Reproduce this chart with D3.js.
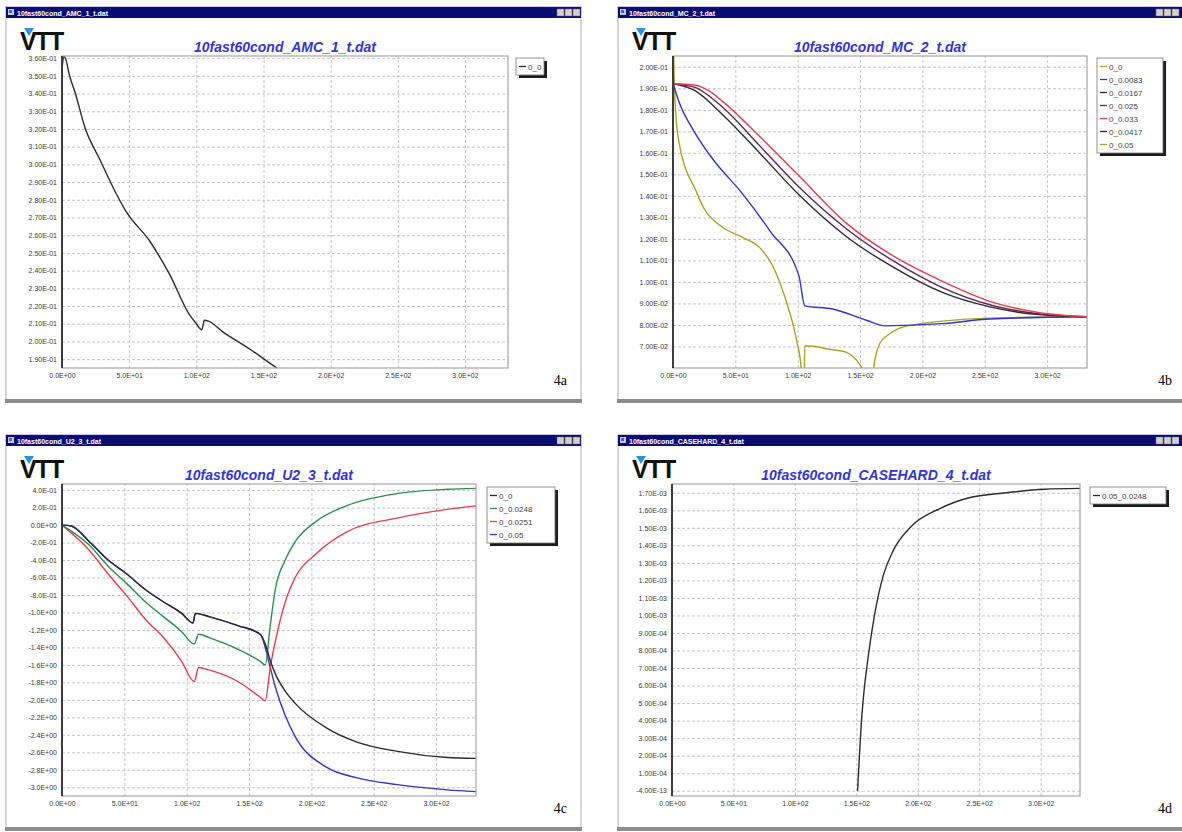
<!DOCTYPE html>
<html>
<head>
<meta charset="utf-8">
<script src="https://cdn.jsdelivr.net/npm/d3@7"></script>
<style>
body { margin: 0; background: #fff; }
svg { display: block; }
.tk text { font: 7px "Liberation Sans", Arial, sans-serif; fill: #3a3a3a; }
</style>
</head>
<body>
<script>
// time axis shared by the four plots
const xTicks = [0, 50, 100, 150, 200, 250, 300];
const xMax = 332;

// 4a  AMC
const amcT = [0, 1.5, 3, 5, 10, 17, 28, 40, 48, 65, 80, 95, 100, 104, 106, 109, 120, 140, 160, 166];
const amcV = [0.354, 0.361, 0.359, 0.352, 0.340, 0.321, 0.303, 0.284, 0.273, 0.257, 0.238, 0.215, 0.210, 0.2065, 0.212, 0.2115, 0.2053, 0.1956, 0.185, 0.182];
const amcTicks = [0.19, 0.20, 0.21, 0.22, 0.23, 0.24, 0.25, 0.26, 0.27, 0.28, 0.29, 0.30, 0.31, 0.32, 0.33, 0.34, 0.35, 0.36];

// 4b  MC
const mcRedT = [0, 17, 28, 40, 70, 101, 139.5, 178, 216, 254, 293, 332];
const mcRedV = [0.1921, 0.1915, 0.1891, 0.1838, 0.1673, 0.1493, 0.1271, 0.1116, 0.1003, 0.0910, 0.0858, 0.0838];
const mcBlackT = [0, 17, 40, 70, 101, 139.5, 178, 216, 254, 293, 332];
const mcBlackV = [0.1921, 0.1891, 0.1776, 0.1596, 0.1405, 0.1209, 0.1064, 0.0951, 0.0884, 0.0848, 0.0838];
const mcPurpleV = [0.1921, 0.1905, 0.1811, 0.1630, 0.1441, 0.1245, 0.1093, 0.0974, 0.0894, 0.0852, 0.0838];
const mcBlueT = [0, 5.4, 17, 32, 55, 78, 101, 105.7, 128, 155, 170, 216, 254, 332];
const mcBlueV = [0.1921, 0.1828, 0.1699, 0.1570, 0.1415, 0.1235, 0.1028, 0.0889, 0.0874, 0.0822, 0.0796, 0.0806, 0.0828, 0.0838];
const mcOliveT = [0, 0.6, 1.2, 2.5, 5, 10, 17, 25, 40, 55, 70, 80, 90, 98, 102, 104.5, 105.3, 105.6, 110, 125, 139, 150, 157, 159, 162, 166, 172, 180, 195, 216, 254, 332];
const mcOliveV = [0.2485, 0.205, 0.1905, 0.176, 0.1644, 0.1528, 0.1441, 0.134, 0.1253, 0.1209, 0.1157, 0.1074, 0.0925, 0.076, 0.0644, 0.0528, 0.0528, 0.0702, 0.0702, 0.0687, 0.0673, 0.0615, 0.0542, 0.0528, 0.0644, 0.0716, 0.0752, 0.0781, 0.0803, 0.0818, 0.0832, 0.0838];
const mcTicks = [0.07, 0.08, 0.09, 0.10, 0.11, 0.12, 0.13, 0.14, 0.15, 0.16, 0.17, 0.18, 0.19, 0.20];
const mcNames = ["0_0", "0_0.0083", "0_0.0167", "0_0.025", "0_0.033", "0_0.0417", "0_0.05"];
const mcColors = ["#a4a42c", "#3434c4", "#2c2c2c", "#5a2850", "#e0404e", "#2c2c2c", "#a4a42c"];

// 4c  U2
const u2BlackT = [0, 7.4, 22, 37, 52, 67, 81.5, 96, 105, 107, 118.5, 141, 159, 163, 167, 171, 179, 187, 212, 236, 269, 309, 332];
const u2BlackV = [0, -0.01, -0.19, -0.40, -0.56, -0.74, -0.88, -1.01, -1.12, -1.01, -1.05, -1.15, -1.25, -1.36, -1.55, -1.70, -1.90, -2.04, -2.32, -2.48, -2.59, -2.66, -2.67];
const u2BlueV = [0, -0.01, -0.19, -0.40, -0.56, -0.74, -0.88, -1.01, -1.12, -1.01, -1.05, -1.15, -1.25, -1.40, -1.63, -1.85, -2.18, -2.42, -2.77, -2.89, -2.97, -3.03, -3.05];
const u2GreenT = [0, 22, 37, 52, 67, 81.5, 96, 106, 109.6, 118.5, 141, 159, 163, 167, 171, 179, 187, 203.6, 228, 268.6, 309, 332];
const u2GreenV = [0, -0.23, -0.47, -0.67, -0.88, -1.05, -1.22, -1.36, -1.25, -1.29, -1.42, -1.56, -1.60, -1.15, -0.74, -0.40, -0.19, 0.04, 0.22, 0.36, 0.41, 0.42];
const u2RedT = [0, 22, 37, 52, 67, 81.5, 96, 106, 109.6, 118.5, 141, 159, 163, 167, 172.8, 179, 187, 203.6, 228, 268.6, 309, 332];
const u2RedV = [0, -0.29, -0.56, -0.81, -1.08, -1.29, -1.56, -1.79, -1.63, -1.66, -1.79, -1.97, -2.01, -1.63, -1.22, -0.88, -0.60, -0.33, -0.08, 0.08, 0.18, 0.22];
const u2Ticks = [0.4, 0.2, 0, -0.2, -0.4, -0.6, -0.8, -1.0, -1.2, -1.4, -1.6, -1.8, -2.0, -2.2, -2.4, -2.6, -2.8, -3.0];
const u2Names = ["0_0", "0_0.0248", "0_0.0251", "0_0.05"];
const u2Colors = ["#2c2c2c", "#2e8c50", "#e0404e", "#3434c4"];

// 4d  CASEHARD
const caseT = [151, 152.5, 154, 156, 159, 165, 172, 180, 195, 218, 241, 272, 303, 333];
const caseV = [0, 0.00020, 0.00038, 0.00055, 0.00073, 0.00101, 0.00123, 0.00137, 0.00151, 0.00161, 0.00167, 0.00170, 0.00172, 0.001725];
const caseTicks = [0, 0.0001, 0.0002, 0.0003, 0.0004, 0.0005, 0.0006, 0.0007, 0.0008, 0.0009, 0.0010, 0.0011, 0.0012, 0.0013, 0.0014, 0.0015, 0.0016, 0.0017];
const caseTickText = ["-4.00E-13", "1.00E-04", "2.00E-04", "3.00E-04", "4.00E-04", "5.00E-04", "6.00E-04", "7.00E-04", "8.00E-04", "9.00E-04", "1.00E-03", "1.10E-03", "1.20E-03", "1.30E-03", "1.40E-03", "1.50E-03", "1.60E-03", "1.70E-03"];

const FONT = "'Liberation Sans', Arial, sans-serif";

// scientific label like 3.60E-01
function sci(d, n) {
  if (Math.abs(d) < 1e-12) return (0).toFixed(n) + "E+00";
  let e = Math.floor(Math.log10(Math.abs(d)) + 1e-9);
  let m = d / Math.pow(10, e);
  return m.toFixed(n) + "E" + (e < 0 ? "-" : "+") + String(Math.abs(e)).padStart(2, "0");
}

const svg = d3.select("body").append("svg").attr("width", 1182).attr("height", 832);
const defs = svg.append("defs");

function drawPanel(p) {
  const g = svg.append("g");
  const { wx, wy, ww, wh } = p;

  // window
  g.append("rect").attr("x", wx + 0.5).attr("y", wy + 0.5).attr("width", ww - 1).attr("height", wh - 1)
    .attr("fill", "#fff").attr("stroke", "#cdc9e2");
  g.append("rect").attr("x", wx).attr("y", wy + 12).attr("width", 2).attr("height", wh - 12).attr("fill", "#d6d6d6");
  g.append("rect").attr("x", wx + ww - 2).attr("y", wy + 12).attr("width", 2).attr("height", wh - 12).attr("fill", "#d6d6d6");
  g.append("rect").attr("x", wx).attr("y", wy + wh - 4).attr("width", ww).attr("height", 4).attr("fill", "#8c8c8c");

  // title bar
  g.append("rect").attr("x", wx + 1).attr("y", wy + 1).attr("width", ww - 2).attr("height", 11).attr("fill", "#0b0b74");
  g.append("rect").attr("x", wx + 3).attr("y", wy + 3).attr("width", 6).attr("height", 6).attr("fill", "#c8c8c8");
  g.append("rect").attr("x", wx + 4).attr("y", wy + 4).attr("width", 3).attr("height", 3).attr("fill", "#3a6ad0");
  g.append("text").attr("x", wx + 12).attr("y", wy + 9.5).attr("font-family", FONT).attr("font-size", 7)
    .attr("font-weight", "bold").attr("fill", "#fff").text(p.file);
  [0, 1, 2].forEach(i => {
    g.append("rect").attr("x", p.btnX + i * 8).attr("y", wy + 3).attr("width", 7).attr("height", 7)
      .attr("fill", "#d4d0c8").attr("stroke", "#6a6a6a").attr("stroke-width", 0.5);
  });

  // VTT logo
  g.append("text").attr("x", wx + 15).attr("y", wy + 44).attr("font-family", FONT).attr("font-weight", "bold")
    .attr("font-size", 25).attr("letter-spacing", -1.5).attr("fill", "#111").text("VTT");
  g.append("path").attr("d", `M${wx + 19},${wy + 22} L${wx + 29},${wy + 22} L${wx + 24},${wy + 30} Z`).attr("fill", "#2f8fd8");

  // plot title
  g.append("text").attr("x", (p.px0 + p.px1) / 2).attr("y", wy + 46).attr("text-anchor", "middle")
    .attr("font-family", FONT).attr("font-weight", "bold").attr("font-style", "italic").attr("font-size", 14)
    .attr("fill", "#3535d0").text(p.file);

  const x = d3.scaleLinear().domain([0, xMax]).range([p.px0, p.px1]);
  const y = d3.scaleLinear().domain(p.yDomain).range([p.py1, p.py0]);
  const pw = p.px1 - p.px0, ph = p.py1 - p.py0;

  // dashed grid
  const gy = g.append("g").attr("transform", `translate(${p.px0},0)`)
    .call(d3.axisLeft(y).tickValues(p.yTicks).tickSize(-pw).tickFormat(""));
  const gx = g.append("g").attr("transform", `translate(0,${p.py1})`)
    .call(d3.axisBottom(x).tickValues(xTicks.slice(1)).tickSize(-ph).tickFormat(""));
  [gy, gx].forEach(s => {
    s.select(".domain").remove();
    s.selectAll("line").attr("stroke", "#c4c4c4").attr("stroke-dasharray", "3,2");
  });

  // tick labels
  g.append("g").attr("class", "tk").attr("transform", `translate(${p.px0 - 2},0)`)
    .call(d3.axisLeft(y).tickValues(p.yTicks).tickSize(0).tickPadding(3).tickFormat(p.yFmt))
    .call(s => s.select(".domain").remove());
  g.append("g").attr("class", "tk").attr("transform", `translate(0,${p.py1 + 2})`)
    .call(d3.axisBottom(x).tickValues(xTicks).tickSize(0).tickPadding(3).tickFormat(d => sci(d, 1)))
    .call(s => s.select(".domain").remove());

  // curves
  defs.append("clipPath").attr("id", "clip" + p.tag).append("rect")
    .attr("x", p.px0).attr("y", p.py0).attr("width", pw).attr("height", ph);
  const line = d3.line().curve(d3.curveMonotoneX).x(d => x(d[0])).y(d => y(d[1]));
  const lg = g.append("g").attr("clip-path", `url(#clip${p.tag})`);
  p.series.forEach(s => {
    lg.append("path").datum(d3.zip(s.t, s.v)).attr("d", line)
      .attr("fill", "none").attr("stroke", s.color).attr("stroke-width", 1.4).attr("stroke-linejoin", "round");
  });

  // frame
  g.append("rect").attr("x", p.px0).attr("y", p.py0).attr("width", pw).attr("height", ph)
    .attr("fill", "none").attr("stroke", "#a6a6a6").attr("stroke-width", 1.2);
  g.append("line").attr("x1", p.px0).attr("x2", p.px0).attr("y1", p.py0).attr("y2", p.py1)
    .attr("stroke", "#3c3c3c").attr("stroke-width", 2);

  // legend
  const L = p.legend;
  const lh = L.names.length * 13 + 4;
  g.append("rect").attr("x", L.x + 3).attr("y", L.y + 3).attr("width", L.w).attr("height", lh).attr("fill", "#1c1c1c");
  g.append("rect").attr("x", L.x).attr("y", L.y).attr("width", L.w).attr("height", lh)
    .attr("fill", "#fff").attr("stroke", "#777").attr("stroke-width", 0.8);
  L.names.forEach((nm, i) => {
    const cy = L.y + 8.5 + i * 13;
    g.append("line").attr("x1", L.x + 3).attr("x2", L.x + 10).attr("y1", cy).attr("y2", cy)
      .attr("stroke", L.colors[i]).attr("stroke-width", 1.3);
    g.append("text").attr("x", L.x + 12).attr("y", cy + 3).attr("font-family", FONT).attr("font-size", 8)
      .attr("fill", "#444").text(nm);
  });

  // figure tag
  g.append("text").attr("x", p.tagX).attr("y", wy + 379).attr("text-anchor", "end")
    .attr("font-family", "'Liberation Serif', 'Times New Roman', serif").attr("font-size", 14).attr("fill", "#000").text(p.tag);
}

drawPanel({
  tag: "4a", file: "10fast60cond_AMC_1_t.dat",
  wx: 5, wy: 6, ww: 577, wh: 397, btnX: 557, tagX: 567,
  px0: 62, px1: 508, py0: 56, py1: 368,
  yDomain: [0.185, 0.3612], yTicks: amcTicks, yFmt: d => sci(d, 2),
  series: [{ t: amcT, v: amcV, color: "#2c2c2c" }],
  legend: { x: 516, y: 58, w: 28, names: ["0_0"], colors: ["#2c2c2c"] }
});

drawPanel({
  tag: "4b", file: "10fast60cond_MC_2_t.dat",
  wx: 617, wy: 6, ww: 568, wh: 397, btnX: 1156, tagX: 1172,
  px0: 673, px1: 1087, py0: 56, py1: 368,
  yDomain: [0.06, 0.205], yTicks: mcTicks, yFmt: d => sci(d, 2),
  series: [
    { t: mcOliveT, v: mcOliveV, color: mcColors[0] },
    { t: mcBlueT, v: mcBlueV, color: mcColors[1] },
    { t: mcBlackT, v: mcBlackV, color: mcColors[2] },
    { t: mcBlackT, v: mcPurpleV, color: mcColors[3] },
    { t: mcRedT, v: mcRedV, color: mcColors[4] }
  ],
  legend: { x: 1097, y: 58, w: 66, names: mcNames, colors: mcColors }
});

drawPanel({
  tag: "4c", file: "10fast60cond_U2_3_t.dat",
  wx: 5, wy: 434, ww: 577, wh: 397, btnX: 557, tagX: 567,
  px0: 62, px1: 476, py0: 484, py1: 796,
  yDomain: [-3.1, 0.47], yTicks: u2Ticks, yFmt: d => sci(d, 1),
  series: [
    { t: u2BlackT, v: u2BlueV, color: u2Colors[3] },
    { t: u2RedT, v: u2RedV, color: u2Colors[2] },
    { t: u2GreenT, v: u2GreenV, color: u2Colors[1] },
    { t: u2BlackT, v: u2BlackV, color: u2Colors[0] }
  ],
  legend: { x: 487, y: 487, w: 68, names: u2Names, colors: u2Colors }
});

drawPanel({
  tag: "4d", file: "10fast60cond_CASEHARD_4_t.dat",
  wx: 617, wy: 434, ww: 568, wh: 397, btnX: 1156, tagX: 1172,
  px0: 672, px1: 1080, py0: 484, py1: 796,
  yDomain: [-0.00003, 0.00175], yTicks: caseTicks, yFmt: (d, i) => caseTickText[i],
  series: [{ t: caseT, v: caseV, color: "#2c2c2c" }],
  legend: { x: 1090, y: 487, w: 76, names: ["0.05_0.0248"], colors: ["#2c2c2c"] }
});
</script>
</body>
</html>
